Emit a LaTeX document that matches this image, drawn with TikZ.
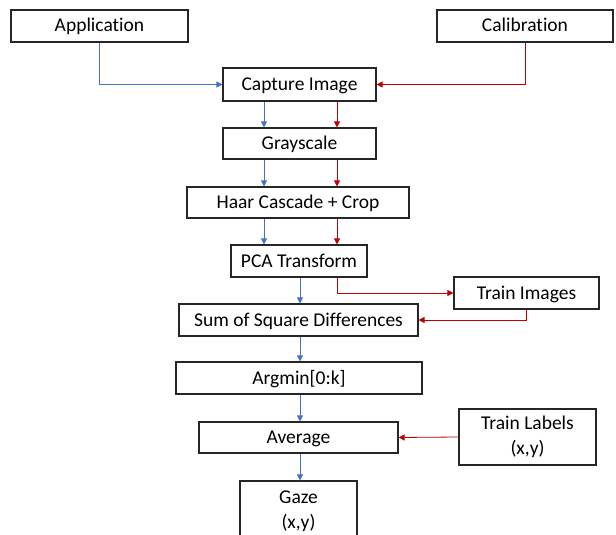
\documentclass[tikz,border=0pt]{standalone}
\usepackage{fontspec}
\setmainfont{Carlito}[Ligatures=NoCommon,RawFeature={-liga;-clig;-dlig}]
\usetikzlibrary{arrows.meta}
\definecolor{ablue}{HTML}{4472C4}
\definecolor{ared}{HTML}{C00000}
\begin{document}
\begin{tikzpicture}[x=1pt,y=-1pt,
  box/.style={draw=black!85, line width=1.1pt, inner sep=0pt, font=\fontsize{19.5}{25}\selectfont, align=center},
  one/.style={box, text height=15.5pt, text depth=3.5pt},
  bl/.style={draw=ablue, line width=0.8pt, -{Triangle[length=6pt,width=6pt]}},
  rd/.style={draw=ared, line width=0.8pt, -{Triangle[length=6pt,width=6pt]}}]
\useasboundingbox (0,0) rectangle (616,535);
\node[one, minimum width=177, minimum height=32] (app) at (99.5,26) {Application};
\node[one, minimum width=176, minimum height=32] (cal) at (525,26) {Calibration};
\node[one, minimum width=153, minimum height=33] (cap) at (299.5,84.5) {Capture Image};
\node[one, minimum width=153, minimum height=31] (gray) at (299.5,143.5) {Grayscale};
\node[one, minimum width=222, minimum height=31] (haar) at (298,202.5) {Haar Cascade + Crop};
\node[one, minimum width=136, minimum height=32] (pca) at (299,261) {PCA Transform};
\node[one, minimum width=145, minimum height=32] (timg) at (526.5,293) {Train Images};
\node[one, minimum width=239, minimum height=32] (ssd) at (298.5,320) {Sum of Square Differences};
\node[one, minimum width=246, minimum height=32] (argmin) at (299,378) {Argmin[0:k]};
\node[one, minimum width=199, minimum height=31] (avg) at (298.5,437.5) {Average};
\node[box, minimum width=137, minimum height=56] (tlab) at (527.5,437) {Train Labels\\(x,y)};
\node[box, minimum width=117, minimum height=60] (gaze) at (298.5,511) {Gaze\\(x,y)};
\coordinate (bx) at (264,0);
\coordinate (rx) at (337,0);
\coordinate (cx) at (300,0);
\draw[bl] (app.south) |- (cap.west);
\draw[rd] (cal.south) |- (cap.east);
\draw[bl] (bx |- cap.south) -- (bx |- gray.north);
\draw[rd] (rx |- cap.south) -- (rx |- gray.north);
\draw[bl] (bx |- gray.south) -- (bx |- haar.north);
\draw[rd] (rx |- gray.south) -- (rx |- haar.north);
\draw[bl] (bx |- haar.south) -- (bx |- pca.north);
\draw[rd] (rx |- haar.south) -- (rx |- pca.north);
\draw[bl] (cx |- pca.south) -- (cx |- ssd.north);
\draw[rd] (rx |- pca.south) |- (timg.west);
\draw[rd] (timg.south) |- (ssd.east);
\draw[bl] (cx |- ssd.south) -- (cx |- argmin.north);
\draw[bl] (cx |- argmin.south) -- (cx |- avg.north);
\draw[rd] (tlab.west) -- (avg.east);
\draw[bl] (cx |- avg.south) -- (cx |- gaze.north);
\end{tikzpicture}
\end{document}
